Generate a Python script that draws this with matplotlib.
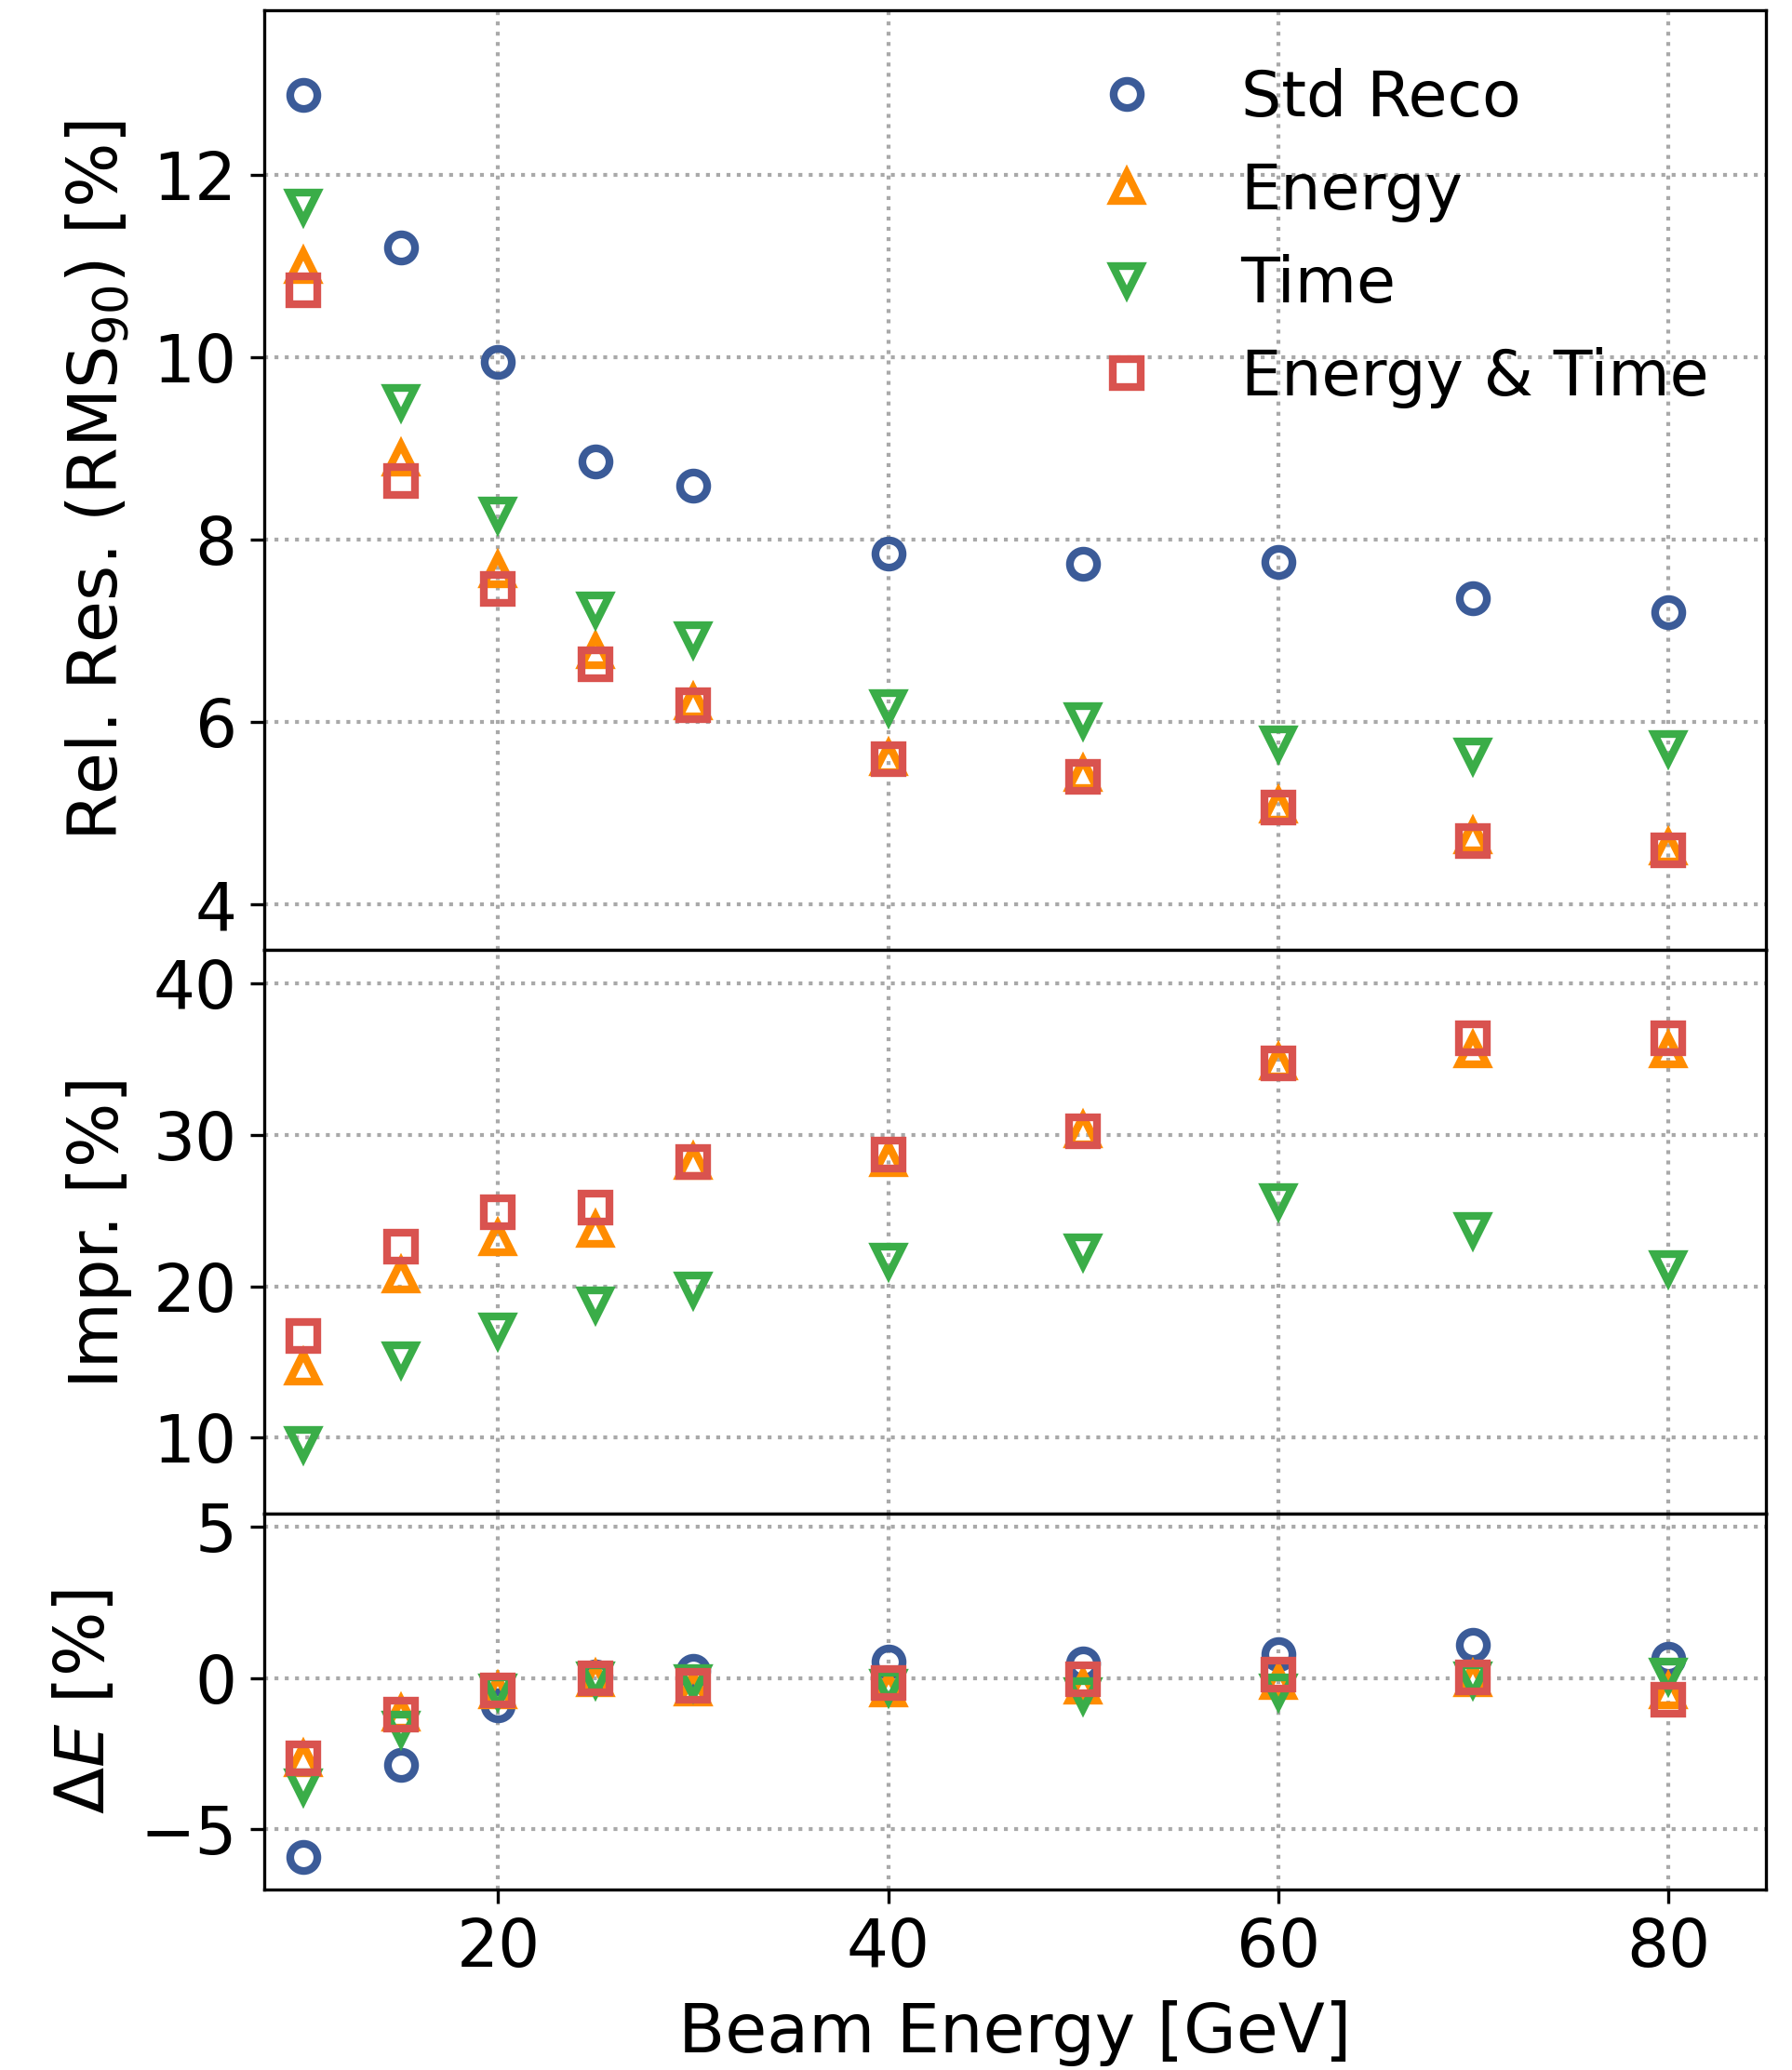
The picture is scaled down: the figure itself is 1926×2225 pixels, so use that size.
import matplotlib
matplotlib.use("Agg")
import matplotlib.pyplot as plt

energies = [10, 15, 20, 25, 30, 40, 50, 60, 70, 80]
labels = ["Std Reco", "Energy", "Time", "Energy & Time"]

res_std = [12.88, 11.20, 9.95, 8.86, 8.59, 7.85, 7.73, 7.75, 7.36, 7.20]
res_energy = [11.00, 8.89, 7.66, 6.78, 6.21, 5.60, 5.43, 5.08, 4.75, 4.62]
res_time = [11.65, 9.51, 8.27, 7.23, 6.91, 6.16, 6.02, 5.77, 5.63, 5.71]
res_et = [10.73, 8.64, 7.46, 6.63, 6.18, 5.59, 5.40, 5.06, 4.69, 4.59]

impr_energy = [14.65, 20.7, 23.15, 23.75, 28.2, 28.4, 30.3, 34.8, 35.6, 35.6]
impr_time = [9.6, 15.2, 17.1, 18.8, 19.8, 21.7, 22.3, 25.6, 23.7, 21.2]
impr_et = [16.7, 22.6, 24.9, 25.2, 28.2, 28.7, 30.2, 34.7, 36.4, 36.4]

de_std = [-5.92, -2.89, -0.89, 0.05, 0.25, 0.54, 0.49, 0.80, 1.10, 0.64]
de_energy = [-2.70, -1.17, -0.44, -0.03, -0.34, -0.39, -0.29, -0.13, -0.03, -0.44]
de_time = [-3.60, -1.68, -0.44, -0.03, -0.13, -0.29, -0.55, -0.44, -0.03, 0.07]
de_et = [-2.67, -1.22, -0.41, 0.00, -0.26, -0.17, -0.04, 0.11, 0.02, -0.71]

colors = ["#3b5b98", "#ff8c00", "#3aad48", "#d9534f"]
markers = ["o", "^", "v", "s"]

plt.rcParams["font.family"] = ["DejaVu Sans"]
plt.rcParams["font.size"] = 17

fig = plt.figure(figsize=(6.42, 7.4167), dpi=300)
gs = fig.add_gridspec(3, 1, height_ratios=[2.5, 1.5, 1], hspace=0,
                      left=0.1474, right=0.9853, top=0.9949, bottom=0.0873)
ax1 = fig.add_subplot(gs[0])
ax2 = fig.add_subplot(gs[1], sharex=ax1)
ax3 = fig.add_subplot(gs[2], sharex=ax1)

mk = dict(linestyle="none", markersize=7, markeredgewidth=2, markerfacecolor="none")

top_series = [res_std, res_energy, res_time, res_et]
for vals, c, m, lab in zip(top_series, colors, markers, labels):
    ax1.plot(energies, vals, marker=m, color=c, markeredgecolor=c, label=lab, **mk)

mid_series = [impr_energy, impr_time, impr_et]
for vals, c, m in zip(mid_series, colors[1:], markers[1:]):
    ax2.plot(energies, vals, marker=m, color=c, markeredgecolor=c, **mk)

bot_series = [de_std, de_energy, de_time, de_et]
for vals, c, m in zip(bot_series, colors, markers):
    ax3.plot(energies, vals, marker=m, color=c, markeredgecolor=c, **mk)

ax1.set_xlim(8, 85)
ax1.set_ylim(3.5, 13.8)
ax2.set_ylim(5, 42.2)
ax3.set_ylim(-7, 5.45)

ax1.set_yticks([4, 6, 8, 10, 12])
ax2.set_yticks([10, 20, 30, 40])
ax3.set_yticks([-5, 0, 5])
ax3.set_xticks([20, 40, 60, 80])

for ax in (ax1, ax2, ax3):
    ax.grid(True, linestyle=":", color="darkgray", linewidth=1.0)
    ax.set_axisbelow(True)
for ax in (ax1, ax2):
    ax.tick_params(labelbottom=False)

lab_fs = 17.6
ax1.set_ylabel(r"Rel. Res. (RMS$_{90}$) [%]", fontsize=lab_fs, labelpad=5.5)
ax2.set_ylabel("Impr. [%]", fontsize=lab_fs, labelpad=5.5)
ax3.set_ylabel(r"$\Delta E$ [%]", fontsize=lab_fs, labelpad=5.5)
ax3.set_xlabel("Beam Energy [GeV]", fontsize=lab_fs, labelpad=5)

ax1.legend(loc="upper right", frameon=False, fontsize=16.4)

fig.savefig("out.png", dpi=300)
